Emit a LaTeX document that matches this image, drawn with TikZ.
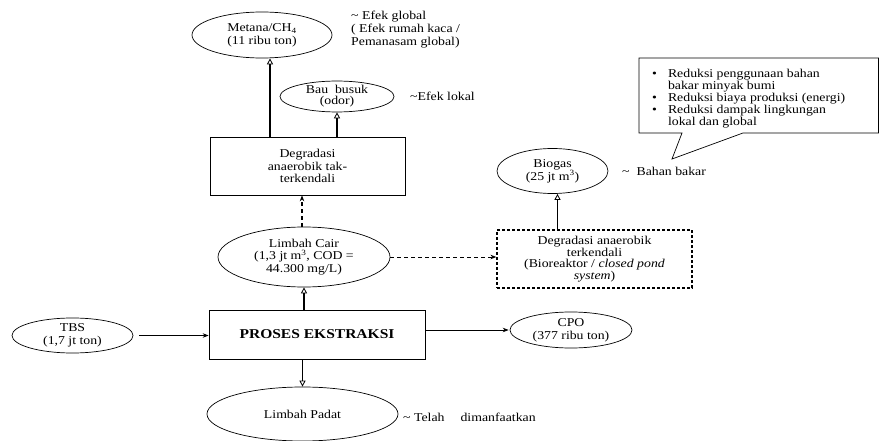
\documentclass[tikz,border=0pt]{standalone}
\usepackage{fontspec}
\setmainfont[FakeStretch=1.15]{Liberation Serif}
\usetikzlibrary{shapes.geometric,arrows.meta}
\tikzset{
  ell/.style={ellipse,draw,line width=0.7pt,inner sep=0pt,align=center,font=\fontsize{12}{12.7}\selectfont},
  boxn/.style={rectangle,draw,line width=0.7pt,inner sep=0pt,align=center,font=\fontsize{12}{12.7}\selectfont},
  note/.style={anchor=north west,inner sep=0pt,align=left,font=\fontsize{12}{12.7}\selectfont},
  uparr/.style={line width=1.8pt,-{Triangle[open,length=6pt,width=6pt,line width=0.8pt]}},
  thinarr/.style={line width=0.7pt,-{Stealth[length=6pt,width=4.5pt]}},
  dasharr/.style={line width=1pt,dash pattern=on 4pt off 3pt,-{Stealth[length=6pt,width=4.5pt]}},
}
\begin{document}
\begin{tikzpicture}[x=1pt,y=-1pt]
\useasboundingbox (0,0) rectangle (879,441);
% nodes
\node[ell,minimum width=140pt,minimum height=46pt] (metana) at (262,35) {Metana/CH\textsubscript{4}\\(11 ribu ton)};
\node[ell,minimum width=114pt,minimum height=29pt,font=\fontsize{12}{11}\selectfont] (bau) at (337,96.5) {Bau\ \ busuk\\(odor)};
\node[boxn,minimum width=195pt,minimum height=58pt] (degr) at (307.5,166) {Degradasi\\anaerobik tak-\\terkendali};
\node[ell,minimum width=172pt,minimum height=60pt] (cair) at (304,257) {Limbah Cair\\(1,3 jt m\textsuperscript{3}, COD =\\44.300 mg/L)};
\node[boxn,minimum width=195pt,minimum height=58pt,line width=1.2pt,dash pattern=on 3pt off 2pt,font=\fontsize{12}{11.5}\selectfont] (terk) at (594.5,259) {Degradasi anaerobik\\terkendali\\(Bioreaktor / \textit{closed pond}\\\textit{system})};
\node[ell,minimum width=111pt,minimum height=45pt] (biogas) at (552.5,171) {Biogas\\(25 jt m\textsuperscript{3})};
\node[boxn,minimum width=216pt,minimum height=49pt,font=\fontsize{13.5}{14}\selectfont\bfseries] (proses) at (317,334.5) {PROSES EKSTRAKSI};
\node[ell,minimum width=121pt,minimum height=35pt] (tbs) at (72.5,335.5) {TBS\\(1,7 jt ton)};
\node[ell,minimum width=122pt,minimum height=36pt] (cpo) at (571,330) {CPO\\(377 ribu ton)};
\node[ell,minimum width=191pt,minimum height=54pt] (padat) at (302.5,414) {Limbah Padat};
% notes
\node[note] (ng) at (351,11) {\textasciitilde{} Efek global\\( Efek rumah kaca /\\Pemanasam global)};
\node[note,anchor=west] (nl) at (410,96) {\textasciitilde Efek lokal};
\node[note,anchor=west] (nb) at (622,171) {\textasciitilde\ \ Bahan bakar};
\node[note,anchor=west] (nt) at (403,417) {\textasciitilde{} Telah\hspace{16pt}dimanfaatkan};
% callout
\draw[line width=0.7pt] (639,58) -- (878.5,58) -- (878.5,133) -- (743,133) -- (672,159) -- (682,133) -- (639,133) -- cycle;
\node[anchor=north west,inner sep=0pt,font=\fontsize{12}{12}\selectfont] (call) at (652,69)
 {\begin{tabular}{@{}l@{\hspace{11pt}}l@{}}
 \textbullet & Reduksi penggunaan bahan\\
  & bakar minyak bumi\\
 \textbullet & Reduksi biaya produksi (energi)\\
 \textbullet & Reduksi dampak lingkungan\\
  & lokal dan global
 \end{tabular}};
% connectors
\draw[uparr] ([xshift=-37.5pt]degr.north) -- ([xshift=-37.5pt]degr.north |- metana.south);
\draw[uparr] ([xshift=29.5pt]degr.north) -- ([xshift=29.5pt]degr.north |- bau.south);
\draw[dasharr,line width=1.3pt] (cair.north -| 302,0) -- (302,0 |- degr.south);
\draw[dasharr] (cair.east) -- (cair.east -| terk.west);
\draw[uparr] ([xshift=-37pt]terk.north) -- ([xshift=-37pt]terk.north |- biogas.south);
\draw[uparr,line width=1.2pt] (proses.north -| cair.south) -- (cair.south);
\draw[uparr,line width=1.2pt] (proses.south -| padat.north) -- (padat.north);
\draw[thinarr,shorten <=6pt] (tbs.east) -- (tbs.east -| proses.west);
\draw[thinarr,shorten >=1pt] (proses.east |- cpo.west) -- (cpo.west);
\end{tikzpicture}
\end{document}
